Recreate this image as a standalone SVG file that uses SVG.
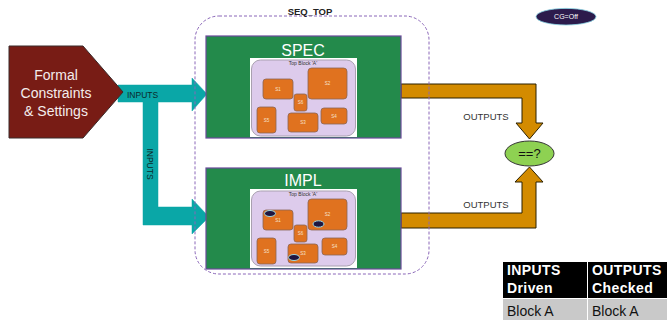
<svg xmlns="http://www.w3.org/2000/svg" width="667" height="320" viewBox="0 0 667 320">
  <style>
    text { font-family: "Liberation Sans", Arial, sans-serif; }
    .flow-in { fill: #0aa7a7; stroke: #0aa7a7; stroke-width: 0.5; }
    .flow-out { fill: #d38b00; stroke: #2a2000; stroke-width: 1; }
    .flow-lbl { font-size: 8.5px; fill: #0b2b2b; }
    .out-lbl { font-size: 9.5px; fill: #333; text-anchor: middle; }
    .box { fill: #238a4b; stroke: #6a4a9a; stroke-width: 1.2; }
    .box-title { font-size: 16px; fill: #ffffff; text-anchor: middle; }
    .frame { fill: #ffffff; }
    .block { fill: #ddcbec; stroke: #a9a0b0; stroke-width: 1; }
    .block-title { font-size: 5px; fill: #333; text-anchor: middle; }
    .sub { fill: #e0721f; stroke: #8a6555; stroke-width: 0.8; }
    .sub-lbl { font-size: 4.5px; fill: #f6e2cf; text-anchor: middle; }
    .probe { fill: #1e1640; stroke: #9fd8e0; stroke-width: 1; }
    .th { font-size: 14px; font-weight: bold; fill: #ffffff; letter-spacing: 0.4px; }
    .td { font-size: 14px; fill: #111; }
  </style>

  <!-- connectors: stimulus fan-out and result fan-in -->
  <g id="connectors">
    <polygon class="flow-in" points="118,85 192,85 192,78 207,94 192,111 192,102 158,102 158,207 192,207 192,199 209,217 192,234 192,225 143,225 143,102 118,102"/>
    <text class="flow-lbl" x="127" y="98">INPUTS</text>
    <text class="flow-lbl" transform="translate(150,164) rotate(90)" text-anchor="middle" dominant-baseline="central">INPUTS</text>

    <polygon class="flow-out" points="401,84 536,84 536,123 543,123 529.5,139 516,123 522,123 522,98 401,98"/>
    <polygon class="flow-out" points="401,213 522,213 522,182 515,182 529.5,167 543,182 536,182 536,228 401,228"/>
    <text class="out-lbl" x="486" y="119.5">OUTPUTS</text>
    <text class="out-lbl" x="486" y="207.5">OUTPUTS</text>
  </g>

  <!-- source of constraints -->
  <g id="constraints">
    <polygon points="9,46 83,46 123,92 83,138 9,138" fill="#781c15" stroke="#3a2a2a" stroke-width="1"/>
    <text x="56" y="80" font-size="14" fill="#f4ecec" text-anchor="middle">Formal</text>
    <text x="56" y="98" font-size="14" fill="#f4ecec" text-anchor="middle">Constraints</text>
    <text x="56" y="116" font-size="14" fill="#f4ecec" text-anchor="middle">&amp; Settings</text>
  </g>

  <!-- reference model -->
  <g id="spec">
    <rect class="box" x="206" y="36" width="195" height="102"/>
    <text class="box-title" x="303" y="56">SPEC</text>
    <rect class="frame" x="250" y="58" width="107" height="79"/>
    <rect class="block" x="251.5" y="60" width="104" height="76" rx="9"/>
    <text class="block-title" x="303" y="65">Top Block 'A'</text>
    <rect class="sub" x="263" y="79" width="30" height="20" rx="3"/>
    <text class="sub-lbl" x="278" y="90.5">S1</text>
    <rect class="sub" x="308" y="68" width="39" height="31" rx="3.5"/>
    <text class="sub-lbl" x="327.5" y="85">S2</text>
    <rect class="sub" x="294" y="94" width="13" height="17" rx="2.5"/>
    <text class="sub-lbl" x="300.5" y="104">S6</text>
    <rect class="sub" x="257" y="107" width="19" height="26" rx="3"/>
    <text class="sub-lbl" x="266.5" y="121.5">S5</text>
    <rect class="sub" x="288" y="113" width="30" height="19" rx="3"/>
    <text class="sub-lbl" x="303" y="124">S3</text>
    <rect class="sub" x="321" y="108" width="26" height="16" rx="3"/>
    <text class="sub-lbl" x="334" y="117.5">S4</text>
  </g>

  <!-- design under test -->
  <g id="impl">
    <rect class="box" x="206" y="168" width="195" height="101"/>
    <text class="box-title" x="303" y="186" font-size="15.5">IMPL</text>
    <rect class="frame" x="250" y="189" width="107" height="79"/>
    <rect class="block" x="251.5" y="191" width="104" height="75" rx="9"/>
    <text class="block-title" x="303" y="196">Top Block 'A'</text>
    <rect class="sub" x="263" y="210" width="30" height="20" rx="3"/>
    <text class="sub-lbl" x="278" y="221.5">S1</text>
    <rect class="sub" x="308" y="199" width="39" height="31" rx="3.5"/>
    <text class="sub-lbl" x="327.5" y="216">S2</text>
    <rect class="sub" x="294" y="225" width="13" height="17" rx="2.5"/>
    <text class="sub-lbl" x="300.5" y="235">S6</text>
    <rect class="sub" x="257" y="238" width="19" height="26" rx="3"/>
    <text class="sub-lbl" x="266.5" y="252.5">S5</text>
    <rect class="sub" x="288" y="244" width="30" height="19" rx="3"/>
    <text class="sub-lbl" x="303" y="255">S3</text>
    <rect class="sub" x="322" y="238" width="25" height="17" rx="3"/>
    <text class="sub-lbl" x="334.5" y="248">S4</text>
    <ellipse class="probe" cx="270" cy="213.5" rx="5.5" ry="3"/>
    <ellipse class="probe" cx="318.5" cy="224" rx="5.5" ry="3.2"/>
    <ellipse class="probe" cx="294" cy="257.5" rx="5.5" ry="3"/>
  </g>

  <!-- top-level wrapper -->
  <g id="seq-top">
    <rect x="195" y="16" width="234" height="258" rx="24" fill="none" stroke="#8a66b8" stroke-width="1" stroke-dasharray="3,2"/>
    <text x="310" y="15" font-size="9.5" font-weight="bold" fill="#222" text-anchor="middle">SEQ_TOP</text>
  </g>

  <!-- equivalence check -->
  <g id="compare">
    <ellipse cx="529.5" cy="153.5" rx="24.5" ry="12.5" fill="#8ed152" stroke="#333" stroke-width="1"/>
    <text x="529.5" y="158" font-size="13" fill="#111" text-anchor="middle">==?</text>
  </g>

  <!-- clock gating badge -->
  <g id="cg-badge">
    <ellipse cx="566" cy="16.7" rx="30" ry="8.3" fill="#2c1b4c" stroke="#86d2e2" stroke-width="0.8"/>
    <text x="566" y="19" font-size="7" fill="#ffffff" text-anchor="middle">CG=Off</text>
  </g>

  <!-- driven / checked summary -->
  <g id="summary">
    <rect x="503" y="262" width="84" height="36" fill="#000"/>
    <rect x="588" y="262" width="80" height="36" fill="#000"/>
    <rect x="503" y="299" width="84" height="22" fill="#c9c9c9"/>
    <rect x="588" y="299" width="80" height="22" fill="#c9c9c9"/>
    <text class="th" x="507" y="275">INPUTS</text>
    <text class="th" x="507" y="293">Driven</text>
    <text class="th" x="592" y="275">OUTPUTS</text>
    <text class="th" x="592" y="293">Checked</text>
    <text class="td" x="507" y="316">Block A</text>
    <text class="td" x="592" y="316">Block A</text>
  </g>
</svg>
